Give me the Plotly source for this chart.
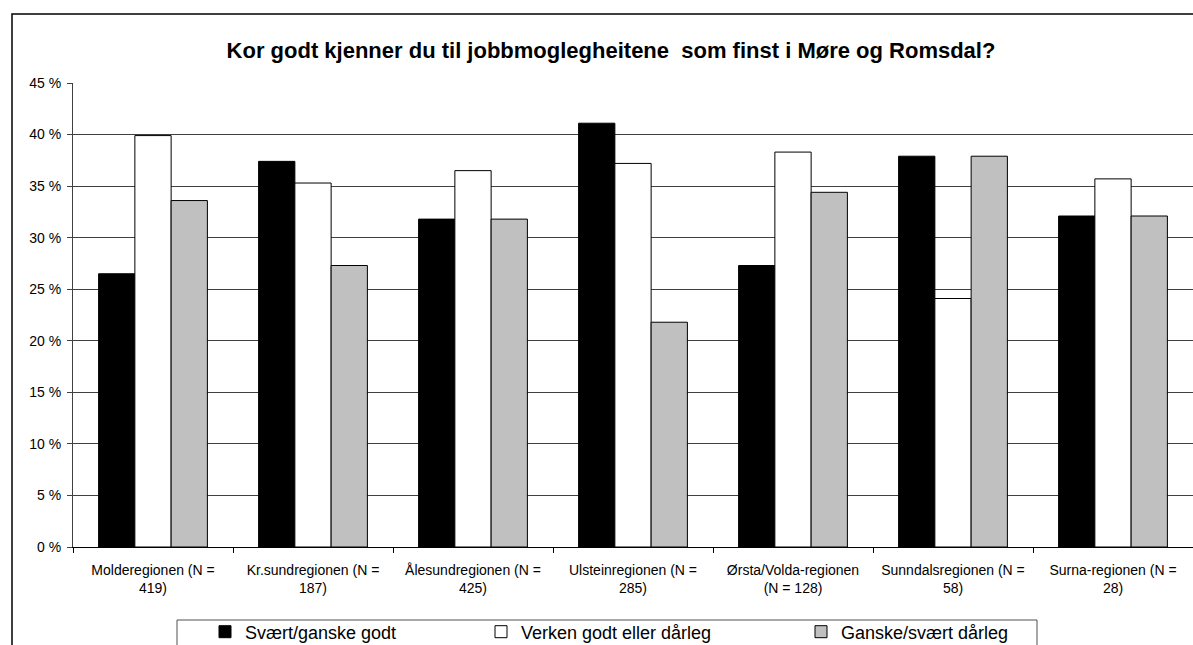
import plotly.graph_objects as go

categories = [
    "Molderegionen (N =<br>419)",
    "Kr.sundregionen (N =<br>187)",
    "Ålesundregionen (N =<br>425)",
    "Ulsteinregionen (N =<br>285)",
    "Ørsta/Volda-regionen<br>(N = 128)",
    "Sunndalsregionen (N =<br>58)",
    "Surna-regionen (N =<br>28)",
]
svaert_godt = [26.5, 37.4, 31.8, 41.1, 27.3, 37.9, 32.1]
verken = [39.9, 35.3, 36.5, 37.2, 38.3, 24.1, 35.7]
darleg = [33.6, 27.3, 31.8, 21.8, 34.4, 37.9, 32.1]
series_names = ["Svært/ganske godt", "Verken godt eller dårleg", "Ganske/svært dårleg"]
series_colors = ["#000000", "#ffffff", "#c0c0c0"]
y_ticks = [0, 5, 10, 15, 20, 25, 30, 35, 40, 45]
y_ticktext = [f"{v} %" for v in y_ticks]

FONT = "Liberation Sans, Arial, sans-serif"

fig = go.Figure()
legends = ["legend", "legend2", "legend3"]
for name, vals, col, lg in zip(series_names, [svaert_godt, verken, darleg], series_colors, legends):
    fig.add_trace(go.Bar(
        x=categories, y=vals, name=name, legend=lg, showlegend=True,
        marker=dict(color=col, line=dict(color="#000000", width=1)),
    ))

W, H = 1193, 645
L, R, T, B = 73, 0, 83, 98
pw, ph = W - L - R, H - T - B

def px(x):
    return (x - L) / pw

def py(y):
    return (H - B - y) / ph

leg_common = dict(
    orientation="h", yanchor="middle", xanchor="left", yref="paper", xref="paper",
    bgcolor="rgba(0,0,0,0)", borderwidth=0,
    font=dict(family=FONT, size=18, color="#000000"),
)

fig.update_layout(
    width=W, height=H,
    margin=dict(l=L, r=R, t=T, b=B, autoexpand=False),
    paper_bgcolor="#ffffff", plot_bgcolor="#ffffff",
    bargap=0.32, bargroupgap=0,
    showlegend=True,
    font=dict(family=FONT, size=14, color="#000000"),
    title=dict(
        text="<b>Kor godt kjenner du til jobbmoglegheitene\u00a0 som finst i Møre og Romsdal?</b>",
        font=dict(family=FONT, size=22, color="#000000"),
        x=611 / W, xanchor="center", y=1 - 50 / H, yanchor="middle",
    ),
    xaxis=dict(
        showline=True, linecolor="#000000", linewidth=1,
        ticks="outside", tickson="boundaries", ticklen=5, tickcolor="#000000",
        tickfont=dict(family=FONT, size=14, color="#000000"),
        ticklabelstandoff=10,
        showgrid=False,
    ),
    yaxis=dict(
        range=[0, 45], tickmode="array", tickvals=y_ticks, ticktext=y_ticktext,
        showline=True, linecolor="#404040", linewidth=1,
        ticks="outside", ticklen=5, tickcolor="#404040",
        showgrid=True, gridcolor="#404040", gridwidth=1,
        zeroline=False,
        ticklabelstandoff=3,
        tickfont=dict(family=FONT, size=14, color="#000000"),
    ),
    legend=dict(x=px(205), y=py(632), **leg_common),
    legend2=dict(x=px(481), y=py(632), **leg_common),
    legend3=dict(x=px(801), y=py(632), **leg_common),
    shapes=[
        dict(type="rect", xref="paper", yref="paper",
             x0=px(12), x1=px(1260), y0=py(700), y1=py(14),
             line=dict(color="#000000", width=1.5), fillcolor="rgba(0,0,0,0)", layer="below"),
        dict(type="rect", xref="paper", yref="paper",
             x0=px(177), x1=px(1037), y0=py(700), y1=py(620),
             line=dict(color="#505050", width=1), fillcolor="rgba(0,0,0,0)"),
    ],
)

fig.write_html(
    "out.html",
    config={"displayModeBar": False},
    post_script="document.body.style.margin='0';document.body.style.overflow='hidden';",
)
